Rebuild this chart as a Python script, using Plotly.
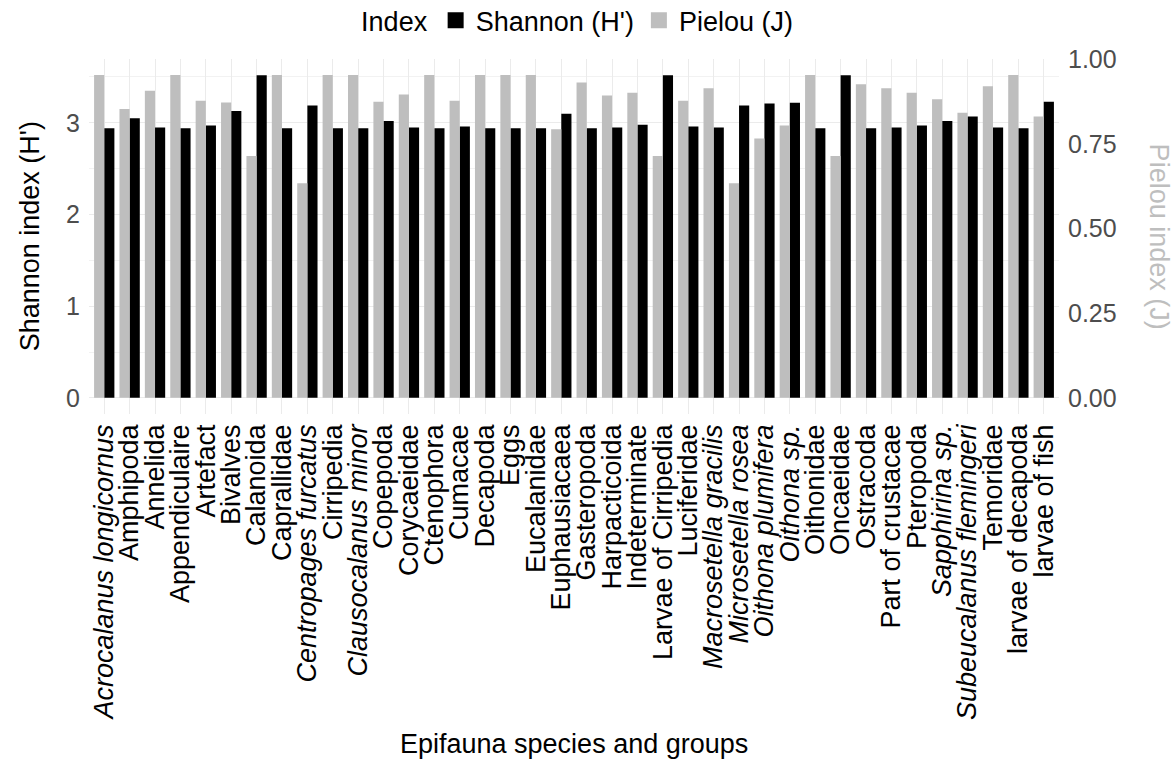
import plotly.graph_objects as go

# Epifauna species / groups (italic ones are taxa names)
categories = [
    "<i>Acrocalanus longicornus</i>", "Amphipoda", "Annelida", "Appendiculaire",
    "Artefact", "Bivalves", "Calanoida", "Caprallidae",
    "<i>Centropages furcatus</i>", "Cirripedia", "<i>Clausocalanus minor</i>",
    "Copepoda", "Corycaeidae", "Ctenophora", "Cumacae", "Decapoda", "Eggs",
    "Eucalanidae", "Euphausiacaea", "Gasteropoda", "Harpacticoida",
    "Indeterminate", "Larvae of Cirripedia", "Luciferidae",
    "<i>Macrosetella gracilis</i>", "<i>Microsetella rosea</i>",
    "<i>Oithona plumifera</i>", "<i>Oithona sp.</i>", "Oithonidae", "Oncaeidae",
    "Ostracoda", "Part of crustacae", "Pteropoda", "<i>Sapphirina sp.</i>",
    "<i>Subeucalanus flemingeri</i>", "Temoridae", "larvae of decapoda",
    "larvae of fish",
]

shannon = [
    2.94, 3.05, 2.95, 2.94, 2.97, 3.13, 3.52, 2.94, 3.19, 2.94,
    2.94, 3.02, 2.95, 2.94, 2.96, 2.94, 2.94, 2.94, 3.10, 2.94,
    2.95, 2.98, 3.52, 2.96, 2.95, 3.19, 3.21, 3.22, 2.94, 3.52,
    2.94, 2.95, 2.97, 3.02, 3.07, 2.95, 2.94, 3.23,
]

pielou = [
    0.954, 0.854, 0.908, 0.954, 0.878, 0.873, 0.715, 0.954, 0.634, 0.954,
    0.954, 0.875, 0.897, 0.954, 0.878, 0.954, 0.954, 0.954, 0.794, 0.932,
    0.894, 0.902, 0.715, 0.878, 0.915, 0.634, 0.767, 0.805, 0.954, 0.715,
    0.927, 0.915, 0.902, 0.883, 0.843, 0.921, 0.954, 0.832,
]

shannon_ticks = [0, 1, 2, 3]
pielou_ticks = [0.0, 0.25, 0.5, 0.75, 1.0]
pielou_ticktext = ["0.00", "0.25", "0.50", "0.75", "1.00"]

BLACK = "#000000"
GREY = "#BEBEBE"
FONT = "Liberation Sans, Arial, sans-serif"

# primary range and the factor linking the secondary (Pielou) scale to it
y_lo, y_hi = -0.176, 3.696
sec_factor = 3.69

x_idx = list(range(len(categories)))

fig = go.Figure()

fig.add_trace(go.Bar(
    x=x_idx, y=pielou, name="Pielou (J)", marker_color=GREY,
    marker_line_width=0, yaxis="y2", offsetgroup="1", showlegend=False,
))
fig.add_trace(go.Bar(
    x=x_idx, y=shannon, name="Shannon (H')", marker_color=BLACK,
    marker_line_width=0, yaxis="y", offsetgroup="2", showlegend=False,
))

# legend keys
fig.add_trace(go.Scatter(
    x=[None], y=[None], mode="markers", name="Shannon (H')",
    marker=dict(symbol="square", size=20, color=BLACK),
))
fig.add_trace(go.Scatter(
    x=[None], y=[None], mode="markers", name="Pielou (J)",
    marker=dict(symbol="square", size=20, color=GREY),
))

fig.update_layout(
    width=1176, height=769,
    margin=dict(l=89, r=117, t=59, b=355, autoexpand=False),
    paper_bgcolor="white", plot_bgcolor="white",
    font=dict(family=FONT, size=25, color="#000000"),
    barmode="group", bargap=0.2, bargroupgap=0,
    legend=dict(
        orientation="h", xref="container", x=0.492, xanchor="center",
        yref="container", y=0.973, yanchor="middle",
        title=dict(text="Index", side="left", font=dict(size=27)),
        font=dict(size=27, color="#000000"),
        itemwidth=30, tracegroupgap=0,
    ),
    xaxis=dict(
        tickmode="array", tickvals=x_idx, ticktext=categories,
        range=[-0.6, len(categories) - 0.4],
        tickangle=-90, tickfont=dict(size=27, color="#000000"),
        showgrid=True, gridcolor="#EBEBEB", gridwidth=1.3,
        zeroline=False, showline=False, ticks="", ticklabelstandoff=4,
        automargin=False,
    ),
    yaxis=dict(
        range=[y_lo, y_hi], tickvals=shannon_ticks,
        tickfont=dict(size=25, color="#4D4D4D"),
        showgrid=True, gridcolor="#EBEBEB", gridwidth=1.3,
        minor=dict(dtick=0.5, showgrid=True, gridcolor="#F2F2F2", gridwidth=0.8),
        zeroline=False, showline=False, ticks="", ticklabelstandoff=8,
        automargin=False,
    ),
    yaxis2=dict(
        range=[y_lo / sec_factor, y_hi / sec_factor], overlaying="y", side="right",
        tickvals=pielou_ticks, ticktext=pielou_ticktext,
        tickfont=dict(size=25, color="#4D4D4D"),
        showgrid=False, zeroline=False, showline=False, ticks="",
        ticklabelstandoff=8, automargin=False,
    ),
    annotations=[
        dict(text="Shannon index (H')", xref="paper", yref="paper",
             x=-0.061, y=0.5, xanchor="center", yanchor="middle",
             textangle=-90, showarrow=False, font=dict(size=27, color="#000000")),
        dict(text="Pielou index (J)", xref="paper", yref="paper",
             x=1.104, y=0.5, xanchor="center", yanchor="middle",
             textangle=90, showarrow=False, font=dict(size=27, color=GREY)),
        dict(text="Epifauna species and groups", xref="paper", yref="paper",
             x=0.5, y=-0.93, xanchor="center", yanchor="middle",
             showarrow=False, font=dict(size=27, color="#000000")),
    ],
)

fig.write_html("out.html")
